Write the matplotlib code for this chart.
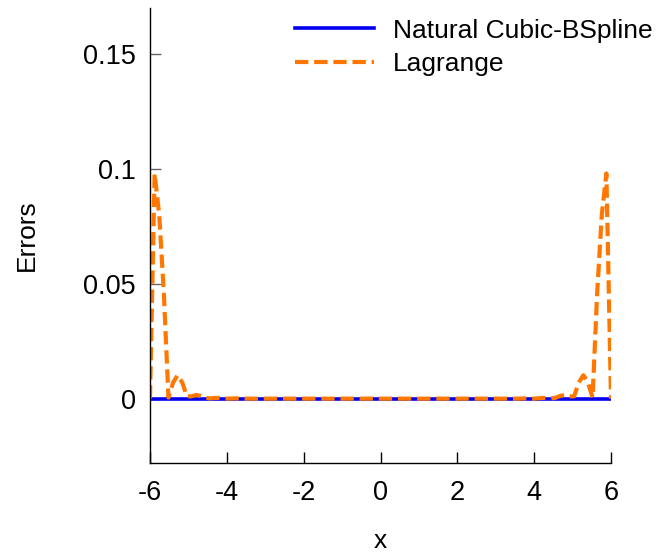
import numpy as np
import matplotlib
matplotlib.use("Agg")
import matplotlib.pyplot as plt

plt.rcParams['font.family'] = ['Liberation Sans', 'DejaVu Sans']

# Sample grid for Lagrange interpolation error
lag_x = np.linspace(-6, 6, 101)
lag_err = [
    0.0, 0.098, 0.080, 0.046, 0.0005, 0.007, 0.0102, 0.007, 0.001, 0.001,
    0.0016, 0.0012, 0.0004, 0.0001, 0.0003, 0.0003, 0.0001, 0.0, 0.0001, 0.0001,
    0.0, 0.0, 0.0, 0.0, 0.0, 0.0, 0.0, 0.0, 0.0, 0.0,
    0.0, 0.0, 0.0, 0.0, 0.0, 0.0, 0.0, 0.0, 0.0, 0.0,
    0.0, 0.0, 0.0, 0.0, 0.0, 0.0, 0.0, 0.0, 0.0, 0.0,
    0.0, 0.0, 0.0, 0.0, 0.0, 0.0, 0.0, 0.0, 0.0, 0.0,
    0.0, 0.0, 0.0, 0.0, 0.0, 0.0, 0.0, 0.0, 0.0, 0.0,
    0.0, 0.0, 0.0, 0.0, 0.0, 0.0, 0.0, 0.0, 0.0, 0.0,
    0.0, 0.0001, 0.0001, 0.0, 0.0001, 0.0003, 0.0003, 0.0001, 0.0004, 0.0012,
    0.0016, 0.001, 0.001, 0.007, 0.0102, 0.007, 0.0005, 0.046, 0.080, 0.098,
    0.0,
]

spline_x = [-6.0, -3.0, 0.0, 3.0, 6.0]
spline_err = [0.0, 0.0, 0.0, 0.0, 0.0]

x_ticks = [-6, -4, -2, 0, 2, 4, 6]
x_ticklabels = ['-6', '-4', '-2', '0', '2', '4', '6']
y_ticks = [0, 0.05, 0.1, 0.15]
y_ticklabels = ['0', '0.05', '0.1', '0.15']

fig = plt.figure(figsize=(6.57, 5.54), dpi=100)
ax = fig.add_axes([150/657, 91/554, 461/657, 455/554])

ax.plot(spline_x, spline_err, color='#0000ee', lw=2.6, label='Natural Cubic-BSpline')
ax.plot(lag_x, lag_err, color='#ff7700', lw=3.0, ls=(0, (3.2, 1.4)), label='Lagrange')

ax.set_xlim(-6, 6)
ax.set_ylim(-0.028, 0.17)
ax.spines['top'].set_visible(False)
ax.spines['right'].set_visible(False)
ax.spines['left'].set_linewidth(1.0)
ax.spines['bottom'].set_linewidth(1.0)

ax.set_xticks(x_ticks)
ax.set_xticklabels(x_ticklabels)
ax.set_yticks(y_ticks)
ax.set_yticklabels(y_ticklabels)
ax.tick_params(axis='x', direction='in', length=8, width=1, color='black', pad=12, labelsize=19.5)
ax.tick_params(axis='y', direction='in', length=8, width=1, color='#666666', pad=10, labelsize=19.5)

ax.set_xlabel('x', fontsize=19, labelpad=17)
ax.set_ylabel('Errors', fontsize=19, labelpad=32)

ax.legend(loc='upper right', frameon=False, fontsize=19, handlelength=3.0,
          handletextpad=0.7, labelspacing=0.35, borderaxespad=0.0,
          bbox_to_anchor=(1.113, 1.0))

fig.savefig('out.png', dpi=100)
